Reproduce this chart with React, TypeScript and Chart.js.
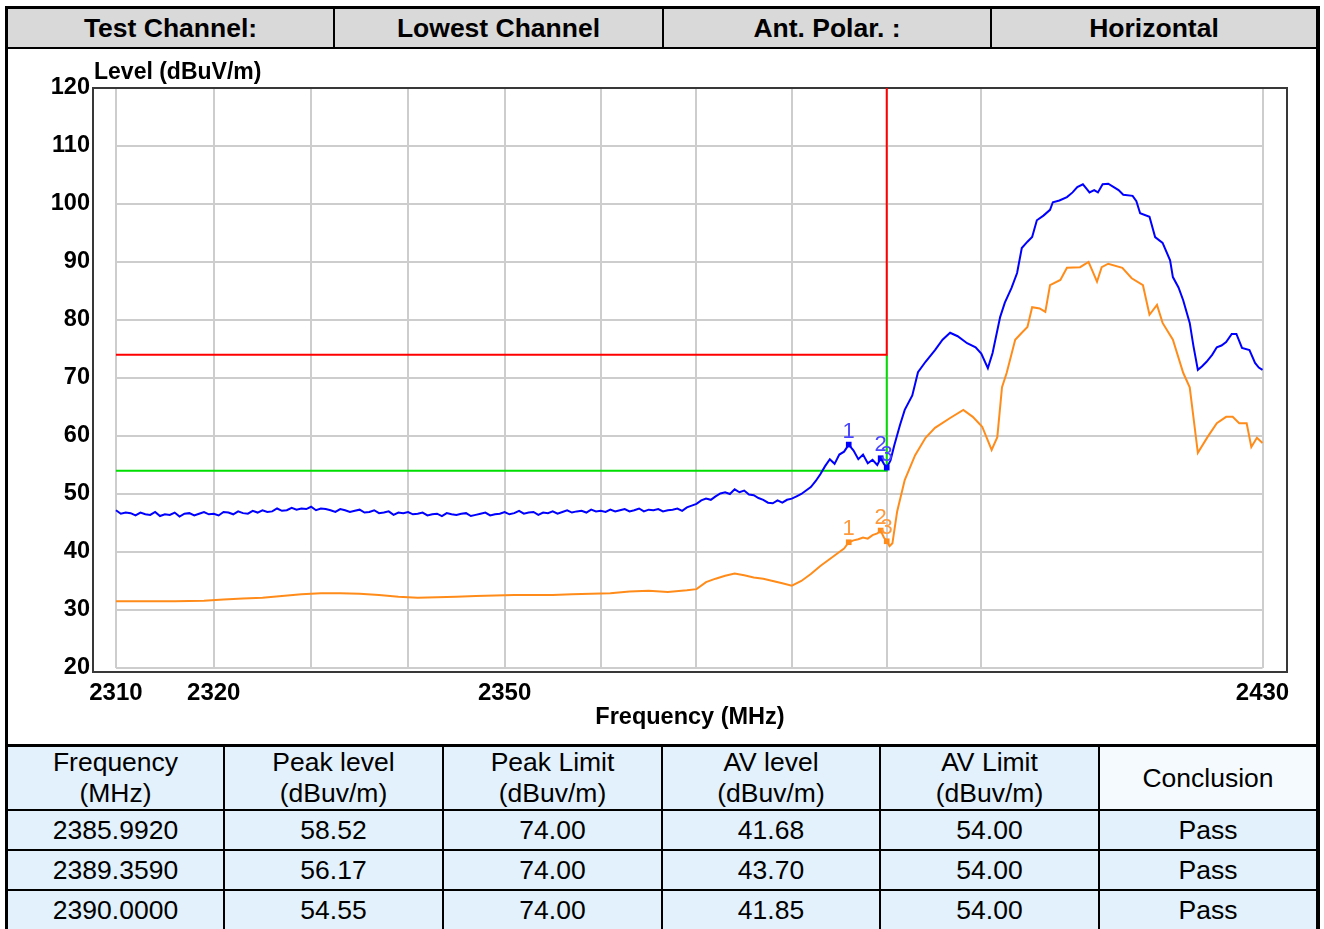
import React, { useEffect, useRef } from "react";
import { Chart, registerables } from "chart.js";

Chart.register(...registerables);

const FONT = '"Liberation Sans", Arial, Helvetica, sans-serif';

// ---- header info ----
const headerLabels = ["Test Channel:", "Lowest Channel", "Ant. Polar. :", "Horizontal"];

// ---- axes ----
const xTickValues = [2310, 2320, 2350, 2430];
const xGridValues = [2310, 2320, 2330, 2340, 2350, 2360, 2370, 2380, 2390, 2400, 2430];
const yTickValues = [20, 30, 40, 50, 60, 70, 80, 90, 100, 110, 120];
const X_MIN = 2307.66;
const X_MAX = 2432.63;
const Y_MIN = 19.31;
const Y_MAX = 120;

// ---- peak trace (blue) ----
const peakFreqs = [
  2310, 2310.5, 2311, 2311.5, 2312, 2312.5, 2313, 2313.5, 2314, 2314.5,
  2315, 2315.5, 2316, 2316.5, 2317, 2317.5, 2318, 2318.5, 2319, 2319.5,
  2320, 2320.5, 2321, 2321.5, 2322, 2322.5, 2323, 2323.5, 2324, 2324.5,
  2325, 2325.5, 2326, 2326.5, 2327, 2327.5, 2328, 2328.5, 2329, 2329.5,
  2330, 2330.5, 2331, 2331.5, 2332, 2332.5, 2333, 2333.5, 2334, 2334.5,
  2335, 2335.5, 2336, 2336.5, 2337, 2337.5, 2338, 2338.5, 2339, 2339.5,
  2340, 2340.5, 2341, 2341.5, 2342, 2342.5, 2343, 2343.5, 2344, 2344.5,
  2345, 2345.5, 2346, 2346.5, 2347, 2347.5, 2348, 2348.5, 2349, 2349.5,
  2350, 2350.5, 2351, 2351.5, 2352, 2352.5, 2353, 2353.5, 2354, 2354.5,
  2355, 2355.5, 2356, 2356.5, 2357, 2357.5, 2358, 2358.5, 2359, 2359.5,
  2360, 2360.5, 2361, 2361.5, 2362, 2362.5, 2363, 2363.5, 2364, 2364.5,
  2365, 2365.5, 2366, 2366.5, 2367, 2367.5, 2368, 2368.5, 2369, 2369.5,
  2370, 2370.5, 2371, 2371.5, 2372, 2372.5, 2373, 2373.5, 2374, 2374.5,
  2375, 2375.5, 2376, 2376.5, 2377, 2377.5, 2378, 2378.5, 2379, 2379.5,
  2380, 2380.5, 2381, 2381.5, 2382, 2382.5, 2383, 2383.5, 2384, 2384.5,
  2385, 2385.5, 2385.992, 2386.5, 2387, 2387.5, 2388, 2388.5, 2389, 2389.359,
  2389.7, 2390, 2390.4, 2390.8, 2391.4, 2391.9, 2392.7, 2393.3, 2394.1, 2395.1,
  2395.9, 2396.7, 2397.5, 2398.5, 2399.4, 2400.0, 2400.7, 2401.2, 2402.0, 2402.5,
  2403.2, 2403.8, 2404.3, 2404.9, 2405.4, 2405.9, 2406.6, 2407.3, 2407.6, 2408.3,
  2409.1, 2409.7, 2410.2, 2410.8, 2411.2, 2411.5, 2412.0, 2412.4, 2412.9, 2413.5,
  2414.0, 2414.6, 2415.1, 2416.1, 2416.5, 2416.9, 2417.9, 2418.5, 2419.3, 2420.1,
  2420.4, 2421.0, 2421.5, 2422.2, 2422.6, 2423.07, 2423.5, 2424.0, 2424.6, 2425.1,
  2425.6, 2426.1, 2426.7, 2427.2, 2427.8, 2428.6, 2429.2, 2429.6, 2430,
];
const peakLevels = [
  47.2, 46.6, 46.8, 46.7, 46.3, 46.8, 46.5, 46.4, 46.9, 46.2,
  46.5, 46.4, 46.8, 46.1, 46.6, 46.7, 46.3, 46.6, 46.9, 46.5,
  46.6, 46.3, 46.9, 46.8, 46.5, 47.0, 46.7, 46.6, 47.1, 46.8,
  47.2, 46.9, 47.0, 47.5, 47.1, 47.2, 47.6, 47.3, 47.5, 47.4,
  47.8, 47.2, 47.5, 47.4, 47.2, 46.9, 47.4, 47.2, 46.9, 47.1,
  47.3, 46.8, 46.9, 47.2, 46.7, 46.8, 47.0, 46.4, 46.8, 46.7,
  46.9, 46.5, 46.6, 46.8, 46.3, 46.5, 46.6, 46.2, 46.7, 46.5,
  46.4, 46.6, 46.7, 46.2, 46.4, 46.6, 46.8, 46.3, 46.5, 46.6,
  46.9, 46.5, 46.7, 47.1, 46.6, 46.8, 46.9, 46.4, 46.8, 46.7,
  47.0, 46.6, 46.9, 47.2, 46.8, 47.0, 47.1, 46.8, 47.3, 47.0,
  47.1, 46.9, 47.3, 47.0, 47.2, 47.4, 47.0, 47.2, 47.5, 47.0,
  47.3, 47.2, 47.4, 47.0, 47.2, 47.3, 47.5, 47.1, 47.7, 48.0,
  48.3, 48.9, 49.2, 49.0, 49.6, 50.1, 50.3, 50.0, 50.8, 50.3,
  50.6, 49.9, 49.8, 49.3, 49.0, 48.5, 48.4, 48.9, 48.5, 49.0,
  49.2, 49.6, 50.0, 50.6, 51.2, 52.2, 53.4, 54.8, 56.0, 55.2,
  56.8, 57.3, 58.52, 57.5, 56.0, 56.8, 55.3, 55.9, 55.0, 56.17,
  55.2, 54.55, 55.8, 58.4, 61.9, 64.5, 67.0, 71.0, 72.8, 74.8,
  76.6, 77.8, 77.2, 76.0, 75.3, 74.2, 71.7, 74.3, 80.5, 83.0,
  85.5, 88.1, 92.4, 93.5, 94.3, 97.2, 98.0, 99.0, 100.3, 100.6,
  101.2, 102.0, 102.9, 103.4, 102.6, 102.0, 102.4, 102.0, 103.4, 103.5,
  103.0, 102.4, 101.6, 101.4, 100.5, 98.4, 97.8, 94.3, 93.3, 90.3,
  87.4, 85.6, 83.4, 79.5, 75.5, 71.4, 72.0, 72.8, 74.0, 75.3,
  75.6, 76.2, 77.6, 77.6, 75.2, 74.8, 72.6, 71.8, 71.4,
];

// ---- average trace (orange) ----
const avFreqs = [
  2310, 2313, 2316, 2319, 2321, 2323, 2325, 2327, 2329, 2331,
  2333, 2335, 2337, 2339, 2341, 2343, 2345, 2347, 2349, 2351,
  2353, 2355, 2357, 2359, 2361, 2363, 2365, 2367, 2369, 2370,
  2371, 2372, 2373, 2374, 2375, 2376, 2377, 2378, 2379, 2380,
  2381, 2382, 2383, 2384, 2385, 2385.5, 2385.992, 2386.5, 2387, 2387.5,
  2388, 2388.5, 2389, 2389.359, 2389.7, 2390, 2390.3, 2390.6, 2391.1, 2391.9,
  2393.0, 2394.1, 2395.1, 2396.7, 2398.1, 2399.1, 2400.1, 2401.1, 2401.7, 2402.2,
  2402.7, 2403.6, 2404.3, 2404.9, 2405.4, 2406.2, 2406.8, 2407.3, 2408.4, 2409.1,
  2410.5, 2411.4, 2411.8, 2412.3, 2412.8, 2413.5, 2415.0, 2416.0, 2417.2, 2417.9,
  2418.7, 2419.3, 2420.4, 2421.5, 2422.2, 2423.07, 2424.1, 2425.1, 2426.1, 2426.8,
  2427.5, 2428.3, 2428.8, 2429.4, 2430,
];
const avLevels = [
  31.5, 31.5, 31.5, 31.6, 31.8, 32.0, 32.1, 32.4, 32.7, 32.9,
  32.9, 32.8, 32.6, 32.3, 32.1, 32.2, 32.3, 32.4, 32.5, 32.6,
  32.6, 32.6, 32.7, 32.8, 32.9, 33.2, 33.3, 33.1, 33.4, 33.6,
  34.8, 35.4, 35.9, 36.3, 36.0, 35.6, 35.4, 35.0, 34.6, 34.2,
  35.0, 36.2, 37.6, 38.8, 40.0, 40.6, 41.68, 42.0, 42.2, 42.5,
  42.3, 42.9, 43.2, 43.7, 42.5, 41.85, 41.0, 41.5, 47.0, 52.4,
  56.7, 59.7, 61.4, 63.1, 64.5, 63.3, 61.6, 57.6, 59.8, 68.4,
  70.9, 76.6, 77.8, 78.8, 82.2, 82.0, 81.4, 86.0, 86.9, 89.0,
  89.1, 90.0, 88.5, 86.6, 89.1, 89.7, 89.0, 87.2, 86.0, 80.9,
  82.6, 79.5, 76.6, 70.9, 68.4, 57.1, 59.8, 62.2, 63.3, 63.3,
  62.2, 62.2, 58.1, 59.7, 58.8,
];

// ---- limit lines ----
const peakLimitFreqs = [2310, 2390, 2390];
const peakLimitLevels = [74, 74, 120];
const avLimitFreqs = [2310, 2390, 2390];
const avLimitLevels = [54, 54, 74];

// ---- markers / result table ----
const markerLabels = ["1", "2", "3"];
const markerFreqs = [2385.992, 2389.359, 2390.0];
const markerPeakLevels = [58.52, 56.17, 54.55];
const markerPeakLimits = [74, 74, 74];
const markerAvLevels = [41.68, 43.7, 41.85];
const markerAvLimits = [54, 54, 54];
const markerConclusions = ["Pass", "Pass", "Pass"];
const tableHeaders = [
  ["Frequency", "(MHz)"],
  ["Peak level", "(dBuv/m)"],
  ["Peak Limit", "(dBuv/m)"],
  ["AV level", "(dBuv/m)"],
  ["AV Limit", "(dBuv/m)"],
  ["Conclusion"],
];

const PEAK_COLOR = "#0000ff";
const AV_COLOR = "#ff8c1a";

const overlayPlugin = {
  id: "overlay",
  beforeDatasetsDraw(chart: any) {
    const { ctx, chartArea, scales } = chart;
    const x = scales.x;
    const y = scales.y;
    const xL = x.getPixelForValue(xGridValues[0]);
    const xR = x.getPixelForValue(xGridValues[xGridValues.length - 1]);
    const yT = y.getPixelForValue(yTickValues[yTickValues.length - 1]);
    const yB = y.getPixelForValue(yTickValues[0]);
    ctx.save();
    ctx.strokeStyle = "#cdcdcd";
    ctx.lineWidth = 2;
    ctx.beginPath();
    yTickValues.forEach((v) => {
      const py = Math.round(y.getPixelForValue(v));
      ctx.moveTo(xL, py);
      ctx.lineTo(xR, py);
    });
    xGridValues.forEach((v) => {
      const px = Math.round(x.getPixelForValue(v));
      ctx.moveTo(px, yT);
      ctx.lineTo(px, yB);
    });
    ctx.stroke();
    ctx.strokeStyle = "#383838";
    ctx.lineWidth = 2;
    ctx.strokeRect(chartArea.left, chartArea.top, chartArea.right - chartArea.left, chartArea.bottom - chartArea.top);
    ctx.fillStyle = "#000";
    ctx.font = `bold 23px ${FONT}`;
    ctx.textAlign = "left";
    ctx.textBaseline = "alphabetic";
    ctx.fillText("Level (dBuV/m)", chartArea.left + 1, chartArea.top - 9);
    ctx.restore();
  },
  afterDatasetsDraw(chart: any) {
    const { ctx, scales } = chart;
    const x = scales.x;
    const y = scales.y;
    ctx.save();
    ctx.font = `22px ${FONT}`;
    ctx.textAlign = "center";
    ctx.textBaseline = "bottom";
    markerFreqs.forEach((f, i) => {
      const px = x.getPixelForValue(f);
      ctx.fillStyle = "#4a46ff";
      ctx.fillText(markerLabels[i], px, y.getPixelForValue(markerPeakLevels[i]) - 2);
      ctx.fillStyle = "#ff9a3c";
      ctx.fillText(markerLabels[i], px, y.getPixelForValue(markerAvLevels[i]) - 2);
    });
    ctx.restore();
  },
};

function ChartCanvas() {
  const ref = useRef<HTMLCanvasElement | null>(null);
  useEffect(() => {
    const canvas = ref.current;
    if (!canvas) return;
    const pts = (fs: number[], vs: number[]) => fs.map((f, i) => ({ x: f, y: vs[i] }));
    const tickFont = { family: FONT, size: 24, weight: "bold" as const };
    const yTickFont = { family: FONT, size: 23.5, weight: "bold" as const };
    const titleFont = { family: FONT, size: 23.5, weight: "bold" as const };
    const chart = new Chart(canvas, {
      type: "line",
      data: {
        datasets: [
          {
            label: "Peak markers",
            data: pts(markerFreqs, markerPeakLevels),
            showLine: false,
            pointStyle: "rect",
            pointRadius: 4,
            pointBackgroundColor: PEAK_COLOR,
            pointBorderColor: PEAK_COLOR,
            pointBorderWidth: 0,
          },
          {
            label: "AV markers",
            data: pts(markerFreqs, markerAvLevels),
            showLine: false,
            pointStyle: "rect",
            pointRadius: 4,
            pointBackgroundColor: AV_COLOR,
            pointBorderColor: AV_COLOR,
            pointBorderWidth: 0,
          },
          {
            label: "Peak",
            data: pts(peakFreqs, peakLevels),
            borderColor: PEAK_COLOR,
            borderWidth: 2,
            pointRadius: 0,
            tension: 0,
          },
          {
            label: "AV",
            data: pts(avFreqs, avLevels),
            borderColor: AV_COLOR,
            borderWidth: 2,
            pointRadius: 0,
            tension: 0,
          },
          {
            label: "Peak limit",
            data: pts(peakLimitFreqs, peakLimitLevels),
            borderColor: "#ff0000",
            borderWidth: 2,
            pointRadius: 0,
          },
          {
            label: "AV limit",
            data: pts(avLimitFreqs, avLimitLevels),
            borderColor: "#00dd00",
            borderWidth: 2,
            pointRadius: 0,
          },
        ],
      },
      options: {
        animation: false,
        responsive: false,
        devicePixelRatio: 1,
        layout: { padding: { left: 0, right: 37, top: 88, bottom: 197 } },
        plugins: { legend: { display: false }, tooltip: { enabled: false } },
        scales: {
          x: {
            type: "logarithmic",
            min: X_MIN,
            max: X_MAX,
            bounds: "data",
            afterBuildTicks: (s: any) => {
              s.ticks = xTickValues.map((value) => ({ value }));
            },
            afterFit: (s: any) => {
              s.height = 60;
            },
            grid: { display: false, drawTicks: false },
            border: { display: false },
            ticks: {
              autoSkip: false,
              maxRotation: 0,
              minRotation: 0,
              padding: 7,
              color: "#000",
              font: tickFont,
              callback: (v: any) => String(v),
            },
            title: {
              display: true,
              text: "Frequency (MHz)",
              color: "#000",
              font: titleFont,
              padding: { top: 0, bottom: 0 },
            },
          },
          y: {
            type: "linear",
            min: Y_MIN,
            max: Y_MAX,
            bounds: "data",
            afterBuildTicks: (s: any) => {
              s.ticks = yTickValues.map((value) => ({ value }));
            },
            afterFit: (s: any) => {
              s.width = 93;
            },
            grid: { display: false, drawTicks: false },
            border: { display: false },
            ticks: {
              padding: 3,
              color: "#000",
              font: yTickFont,
              callback: (v: any) => String(v),
            },
          },
        },
      },
      plugins: [overlayPlugin],
    } as any);
    return () => chart.destroy();
  }, []);
  return (
    <canvas
      ref={ref}
      width={1324}
      height={929}
      style={{ position: "absolute", left: 0, top: 0, width: 1324, height: 929, zIndex: 2 }}
    />
  );
}

const box = (left: number, top: number, width: number, height: number, bg: string, extra: any = {}) => ({
  position: "absolute" as const,
  left,
  top,
  width,
  height,
  background: bg,
  ...extra,
});

export default function App() {
  const headerEdges = [8, 335, 664, 992, 1316];
  const colEdges = [8, 225, 444, 663, 881, 1100, 1316];
  const rowTops = [811, 851, 891];
  const rowH = [38, 38, 38];
  const cellBg = "#e2f1fb";
  const rows = markerFreqs.map((f, i) => [
    f.toFixed(4),
    markerPeakLevels[i].toFixed(2),
    markerPeakLimits[i].toFixed(2),
    markerAvLevels[i].toFixed(2),
    markerAvLimits[i].toFixed(2),
    markerConclusions[i],
  ]);
  const center = {
    display: "flex",
    alignItems: "center",
    justifyContent: "center",
    textAlign: "center" as const,
    color: "#000",
  };
  return (
    <div style={{ position: "absolute", left: 0, top: 0, width: 1324, height: 929, background: "#fff", overflow: "hidden", fontFamily: FONT }}>
      {/* header row cells */}
      {headerLabels.map((t, i) => (
        <div
          key={"h" + i}
          style={box(headerEdges[i], 9, headerEdges[i + 1] - headerEdges[i] - (i < 3 ? 2 : 0), 38, "#d9d9d9", {
            ...center,
            fontWeight: "bold",
            fontSize: 26.5,
          })}
        >
          {t}
        </div>
      ))}
      {/* table header */}
      {tableHeaders.map((lines, i) => (
        <div
          key={"th" + i}
          style={box(colEdges[i], 747, colEdges[i + 1] - colEdges[i] - (i < 5 ? 2 : 0), 62, i === 5 ? "#f4fafe" : cellBg, {
            ...center,
            flexDirection: "column",
            fontSize: 26.5,
            lineHeight: "31px",
          })}
        >
          {lines.map((l, k) => (
            <div key={k}>{l}</div>
          ))}
        </div>
      ))}
      {/* table rows */}
      {rows.map((r, ri) =>
        r.map((t, ci) => (
          <div
            key={"c" + ri + "_" + ci}
            style={box(colEdges[ci], rowTops[ri], colEdges[ci + 1] - colEdges[ci] - (ci < 5 ? 2 : 0), rowH[ri], cellBg, {
              ...center,
              fontSize: 26.5,
            })}
          >
            {t}
          </div>
        ))
      )}
      {/* black rules */}
      <div style={box(5, 6, 1315, 3, "#000")} />
      <div style={box(5, 6, 3, 923, "#000")} />
      <div style={box(1316, 6, 4, 923, "#000")} />
      <div style={box(5, 47, 1315, 2, "#000")} />
      {[333, 662, 990].map((x) => (
        <div key={"hv" + x} style={box(x, 9, 2, 38, "#000")} />
      ))}
      <div style={box(5, 744, 1315, 3, "#000")} />
      {[809, 849, 889].map((y) => (
        <div key={"rl" + y} style={box(5, y, 1315, 2, "#000")} />
      ))}
      {[223, 442, 661, 879, 1098].map((x) => (
        <div key={"cv" + x} style={box(x, 747, 2, 182, "#000")} />
      ))}
      <ChartCanvas />
    </div>
  );
}
